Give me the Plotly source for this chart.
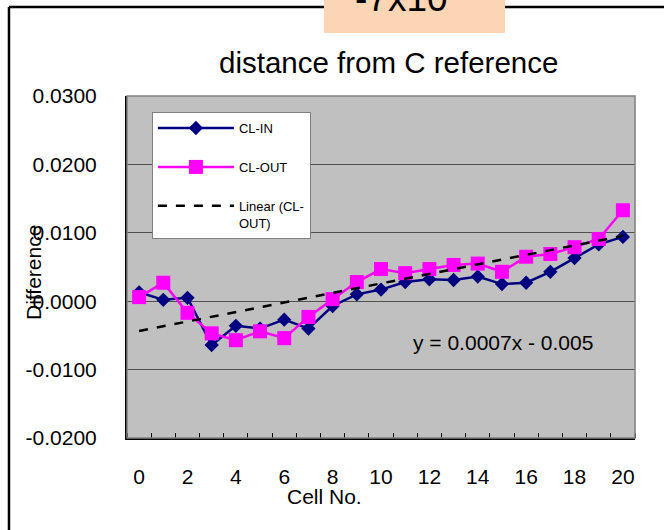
import numpy as np
import plotly.graph_objects as go

# ---- data ----
cells = list(range(0, 21))
cl_in = [0.0013, 0.0002, 0.0005, -0.0064, -0.0036, -0.0040, -0.0027, -0.0040,
         -0.0007, 0.0010, 0.0017, 0.0028, 0.0032, 0.0031, 0.0036, 0.0025,
         0.0027, 0.0043, 0.0063, 0.0083, 0.0094]
cl_out = [0.0006, 0.0027, -0.0017, -0.0047, -0.0057, -0.0044, -0.0054, -0.0023,
          0.0003, 0.0028, 0.0047, 0.0041, 0.0047, 0.0053, 0.0055, 0.0043,
          0.0065, 0.0069, 0.0079, 0.0091, 0.0133]
y_tick_vals = [-0.02, -0.01, 0.0, 0.01, 0.02, 0.03]
y_tick_text = ["-0.0200", "-0.0100", "0.0000", "0.0100", "0.0200", "0.0300"]
x_tick_vals = [0, 2, 4, 6, 8, 10, 12, 14, 16, 18, 20]

# Linear trend of CL-OUT (Excel category index 1..N)
idx = np.arange(1, len(cl_out) + 1)
slope, intercept = np.polyfit(idx, cl_out, 1)
trend = slope * idx + intercept

FONT = "Liberation Sans, Arial, sans-serif"

fig = go.Figure()
fig.add_trace(go.Scatter(
    x=cells, y=cl_in, name="CL-IN", mode="lines+markers", legendgroup="a",
    line=dict(color="#000080", width=2.5),
    marker=dict(symbol="diamond", size=11, color="#000080")))
fig.add_trace(go.Scatter(
    x=cells, y=cl_out, name="CL-OUT", mode="lines+markers", legendgroup="b",
    line=dict(color="#FF00FF", width=2.5),
    marker=dict(symbol="square", size=14, color="#FF00FF")))
fig.add_trace(go.Scatter(
    x=cells, y=trend, name="Linear (CL-<br>OUT)", mode="lines", legendgroup="c",
    line=dict(color="black", width=2.5, dash="dash")))

shapes = [
    # outer frame (top and left)
    dict(type="line", xref="paper", yref="paper", x0=-0.2323, x1=1.2,
         y0=1.2602, y1=1.2602, line=dict(color="black", width=2.5), layer="below"),
    dict(type="line", xref="paper", yref="paper", x0=-0.2323, x1=-0.2323,
         y0=-0.5, y1=1.2602, line=dict(color="black", width=2.5), layer="below"),
    # orange box
    dict(type="rect", xref="paper", yref="paper", x0=0.3878, x1=0.7441,
         y0=1.1842, y1=1.5, fillcolor="#FCD5B5", line=dict(width=0), layer="above"),
    # plot area border (top/right gray)
    dict(type="rect", xref="paper", yref="paper", x0=0, x1=1, y0=0, y1=1,
         line=dict(color="#808080", width=1.5), layer="above"),
]

annotations = [
    dict(text="-7x10", xref="paper", yref="paper", x=0.5404, y=1.2193,
         xanchor="center", yanchor="bottom", showarrow=False,
         font=dict(size=37, color="black", family=FONT)),
    dict(text="distance from C reference", xref="paper", yref="paper",
         x=0.5138, y=1.0994, xanchor="center", yanchor="middle", showarrow=False,
         font=dict(size=29.5, color="black", family=FONT)),
    dict(text="Cell No.", xref="paper", yref="paper", x=0.3878, y=-0.172,
         xanchor="center", yanchor="middle", showarrow=False,
         font=dict(size=21, color="black", family=FONT)),
    dict(text="Difference", xref="paper", yref="paper", x=-0.1831, y=0.4854,
         xanchor="center", yanchor="middle", showarrow=False, textangle=-90,
         font=dict(size=21, color="black", family=FONT)),
    dict(text="y = 0.0007x - 0.005", xref="paper", yref="paper", x=0.7402, y=0.2778,
         xanchor="center", yanchor="middle", showarrow=False,
         font=dict(size=21, color="black", family=FONT)),
]

fig.update_layout(
    width=664, height=530,
    margin=dict(l=127, r=29, t=96, b=92),
    paper_bgcolor="white", plot_bgcolor="#C0C0C0",
    font=dict(family=FONT, color="black", size=21),
    shapes=shapes, annotations=annotations,
    showlegend=True,
    legend=dict(x=0.049, y=0.953, xanchor="left", yanchor="top",
                bgcolor="white", bordercolor="#808080", borderwidth=1,
                font=dict(size=13, family=FONT, color="black"),
                itemwidth=76, tracegroupgap=19, valign="top",
                entrywidth=150, entrywidthmode="pixels"),
)
fig.update_xaxes(
    range=[-0.5, 20.5], tickmode="array", tickvals=x_tick_vals,
    ticks="", showgrid=False, zeroline=False,
    showline=True, linecolor="black", linewidth=2,
    ticklabelstandoff=19, tickfont=dict(size=21),
    minor=dict(tickmode="linear", tick0=-0.5, dtick=1, ticks="inside",
               ticklen=5, tickcolor="black", tickwidth=1, showgrid=False),
)
fig.update_yaxes(
    range=[-0.02, 0.03], tickmode="array", tickvals=y_tick_vals, ticktext=y_tick_text,
    ticks="", showgrid=True, gridcolor="#505050", gridwidth=1, zeroline=False,
    showline=True, linecolor="black", linewidth=2,
    ticklabelstandoff=24, tickfont=dict(size=21),
)

fig.write_html("out.html")
